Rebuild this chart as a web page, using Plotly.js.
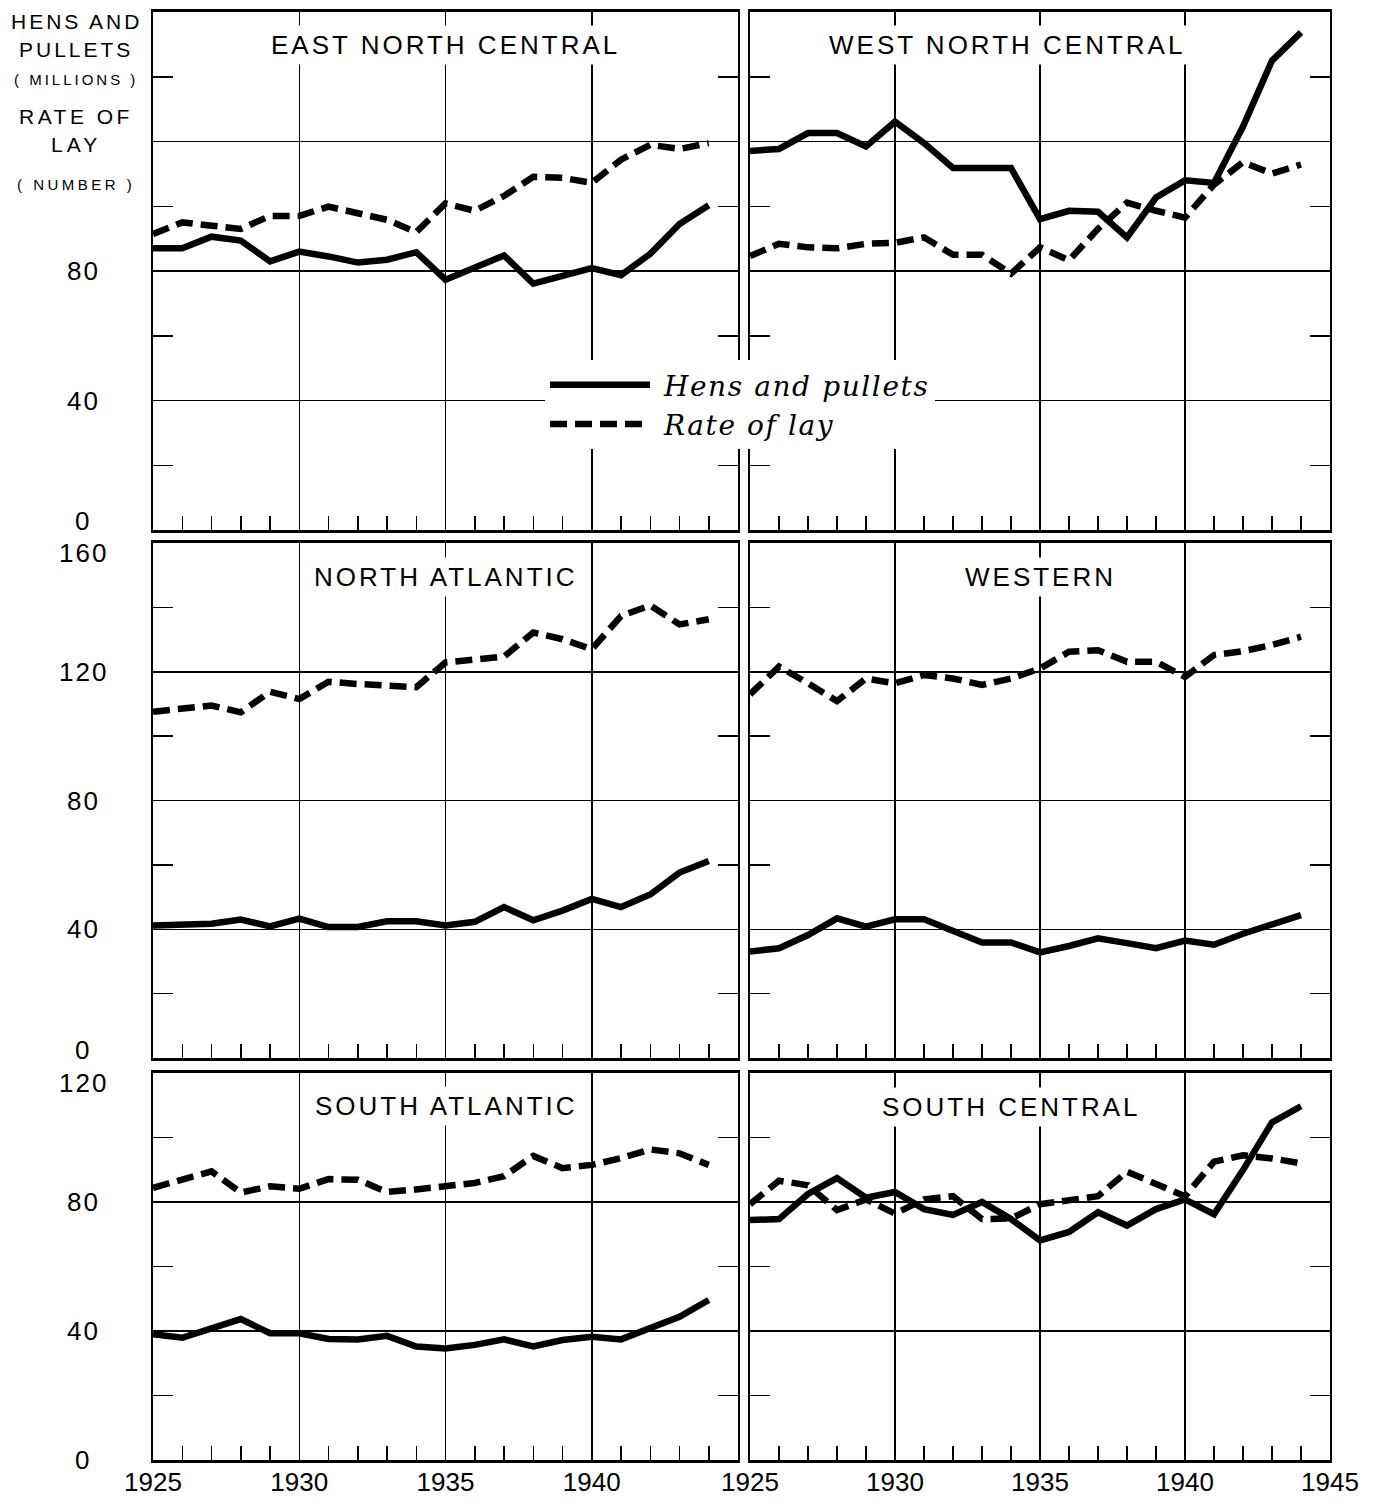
<!DOCTYPE html>
<html><head><meta charset="utf-8">
<script src="https://cdn.plot.ly/plotly-3.0.1.min.js"></script>
<style>body{margin:0;background:#fff}</style>
</head><body>
<div id="chart" style="width:1381px;height:1501px"></div>
<script>
// ---------- data ----------
const years = [1925,1926,1927,1928,1929,1930,1931,1932,1933,1934,1935,1936,1937,1938,1939,1940,1941,1942,1943,1944];

const encHens = [87.0,87.0,90.6,89.4,83.0,86.0,84.5,82.6,83.5,85.8,77.3,80.9,84.8,76.1,78.7,80.9,78.7,85.3,94.5,100.3];
const encLay  = [91.4,95.0,94.0,93.0,97.0,97.0,99.9,98.1,95.8,92.0,100.9,98.6,103.2,109.1,108.8,107.2,114.4,119.0,117.7,119.5];

const wncHens = [117.1,117.7,122.6,122.6,118.5,126.1,119.5,111.8,111.8,111.8,96.0,98.6,98.3,90.4,102.7,108.0,107.2,124.6,145.0,153.7];
const wncLay  = [84.6,88.4,87.3,87.0,88.4,88.7,90.4,85.0,85.0,79.2,87.3,83.3,93.0,101.1,98.6,96.5,106.7,113.6,110.1,112.9];

const naHens = [41.2,41.2,41.7,43.0,40.9,43.3,40.7,40.7,42.5,42.5,41.2,42.3,46.9,42.8,45.8,49.4,46.9,50.8,57.6,61.2];
const naLay  = [107.6,108.5,109.5,107.4,113.8,111.5,116.9,116.2,115.7,115.2,122.9,123.9,124.7,132.2,130.1,127.0,137.3,140.6,134.7,136.3];

const wHens = [33.1,34.1,38.2,43.4,40.8,43.1,43.1,39.3,35.9,35.9,32.8,34.8,37.2,35.7,34.1,36.5,35.2,38.6,41.3,44.4];
const wLay  = [113.0,121.6,116.4,110.9,117.9,116.4,119.0,117.9,115.9,117.9,121.0,126.2,126.7,123.1,123.1,118.4,125.2,126.4,128.3,130.9];

const saHens = [39.0,37.9,40.8,43.7,39.3,39.3,37.5,37.4,38.5,35.2,34.6,35.7,37.4,35.2,37.2,38.2,37.4,40.8,44.4,49.6];
const saLay  = [84.4,87.1,89.5,82.9,84.9,84.1,87.1,86.9,83.1,83.9,84.7,85.9,88.0,94.3,90.5,91.5,93.6,96.3,95.1,91.5];

const scHens = [74.4,74.7,82.5,87.4,81.3,83.1,77.8,76.0,80.0,74.7,68.1,70.7,76.8,72.7,77.8,80.8,76.2,89.9,104.7,109.7];
const scLay  = [79.3,86.6,85.2,77.5,80.8,76.4,80.8,81.8,74.7,74.9,79.3,80.8,81.8,89.4,85.4,81.8,92.5,94.5,93.5,92.0];

const regionNames = ["EAST NORTH CENTRAL","WEST NORTH CENTRAL","NORTH ATLANTIC","WESTERN","SOUTH ATLANTIC","SOUTH CENTRAL"];
const seriesNames = ["Hens and pullets","Rate of lay"];
const xTicksLeft  = [1925,1930,1935,1940];
const xTicksRight = [1925,1930,1935,1940,1945];
const yTicksTop = [0,40,80];
const yTicksMid = [0,40,80,120,160];
const yTicksBot = [0,40,80,120];

// ---------- layout helpers ----------
const W = 1381, H = 1501;
const px = v => v / W;
const py = v => 1 - v / H;
const colL = [153, 738], colR = [750, 1330];
const rows = [[12, 530], [543, 1058], [1073, 1460]];
const xd = c => [px(c[0]), px(c[1])];
const yd = r => [py(r[1]), py(r[0])];

const BLACK = '#000';
const sans = 'Liberation Sans, Arial, sans-serif';
const legendLabel = t => '\u00A0<span style="letter-spacing:1.6px">' + t + '</span>';

const panels = [
  {hens: encHens, lay: encLay, xa: 'x',  ya: 'y'},
  {hens: wncHens, lay: wncLay, xa: 'x2', ya: 'y2'},
  {hens: naHens,  lay: naLay,  xa: 'x3', ya: 'y3'},
  {hens: wHens,   lay: wLay,   xa: 'x4', ya: 'y4'},
  {hens: saHens,  lay: saLay,  xa: 'x5', ya: 'y5'},
  {hens: scHens,  lay: scLay,  xa: 'x6', ya: 'y6'}
];

const traces = [];
panels.forEach((p, i) => {
  traces.push({x: years, y: p.hens, xaxis: p.xa, yaxis: p.ya, mode: 'lines', name: legendLabel(seriesNames[0]),
    showlegend: i === 0, legendrank: 1, line: {color: BLACK, width: 6.5}, hoverinfo: 'skip'});
  traces.push({x: years, y: p.lay, xaxis: p.xa, yaxis: p.ya, mode: 'lines', name: legendLabel(seriesNames[1]),
    showlegend: i === 0, legendrank: 2, line: {color: BLACK, width: 6.5, dash: '17px,8px'}, hoverinfo: 'skip'});
});

function xAxis(col, anchor, tickvals, labels) {
  return {
    domain: xd(col), anchor: anchor, range: [1925, 1945],
    tickmode: 'array', tickvals: tickvals, ticktext: tickvals.map(String),
    showgrid: true, gridcolor: BLACK, gridwidth: 1.5,
    showline: true, linecolor: BLACK, linewidth: 3, mirror: true,
    ticks: 'inside', ticklen: 14, tickwidth: 1.5, tickcolor: BLACK,
    minor: {tickmode: 'linear', tick0: 1925, dtick: 1, ticks: 'inside', ticklen: 14, tickwidth: 1.5, tickcolor: BLACK, showgrid: false},
    showticklabels: labels, ticklabelstandoff: -3,
    tickfont: {family: sans, size: 26, color: BLACK},
    zeroline: false, fixedrange: true
  };
}
function yAxis(row, anchor, top) {
  return {
    domain: yd(row), anchor: anchor, range: [0, top],
    tickmode: 'linear', tick0: 0, dtick: 40,
    showgrid: true, gridcolor: BLACK, gridwidth: 1.5,
    showline: true, linecolor: BLACK, linewidth: 2, mirror: 'ticks',
    ticks: 'inside', ticklen: 20, tickwidth: 1.5, tickcolor: BLACK,
    minor: {tickmode: 'linear', tick0: 0, dtick: 20, ticks: 'inside', ticklen: 20, tickwidth: 1.5, tickcolor: BLACK, showgrid: false},
    showticklabels: false, zeroline: false, fixedrange: true
  };
}

const annotations = [];
// panel titles
const titlePos = [[445, 45], [1007, 45], [446, 577], [1040, 577], [446, 1106], [1011, 1107]];
regionNames.forEach((t, i) => {
  annotations.push({xref: 'paper', yref: 'paper', x: px(titlePos[i][0]), y: py(titlePos[i][1]),
    xanchor: 'center', yanchor: 'middle', showarrow: false, bgcolor: '#fff', borderpad: 4,
    text: '<span style="letter-spacing:3px">' + t + '</span>',
    font: {family: sans, size: 26, color: BLACK}});
});
// y-axis heading
const heading = [
  ['HENS AND', 21, 21, 3], ['PULLETS', 49, 21, 3], ['( MILLIONS )', 80, 15, 3],
  ['RATE OF', 117, 21, 3.5], ['LAY', 144, 21, 4], ['( NUMBER )', 184, 15, 3.5]
];
heading.forEach(h => {
  annotations.push({xref: 'paper', yref: 'paper', x: px(76), y: py(h[1]), xanchor: 'center', yanchor: 'middle',
    showarrow: false, text: '<span style="letter-spacing:' + h[3] + 'px">' + h[0] + '</span>',
    font: {family: sans, size: h[2], color: BLACK}});
});
// y tick labels
function yLabels(vals, yref, top, shiftBottom, shiftTop) {
  vals.forEach(v => {
    let s = 0;
    if (v === 0) s = shiftBottom;
    if (v === top) s = shiftTop;
    annotations.push({xref: 'paper', yref: yref, x: px(83), y: v, xanchor: 'center', yanchor: 'middle',
      yshift: s, showarrow: false, text: '<span style="letter-spacing:2px">' + v + '</span>',
      font: {family: sans, size: 26, color: BLACK}});
  });
}
yLabels(yTicksTop, 'y', 160, 9, 0);
yLabels(yTicksMid, 'y3', 160, 8, -10);
yLabels(yTicksBot, 'y5', 120, 0, -10);

const layout = {
  width: W, height: H,
  margin: {l: 0, r: 0, t: 0, b: 0},
  paper_bgcolor: '#fff', plot_bgcolor: '#fff',
  font: {family: sans, color: BLACK},
  showlegend: true,
  legend: {x: px(545), y: py(360), xanchor: 'left', yanchor: 'top', bgcolor: '#fff', borderwidth: 0,
    itemwidth: 100, tracegroupgap: 0, traceorder: 'normal',
    font: {family: 'DejaVu Serif, serif', size: 28, style: 'italic', color: BLACK}},
  xaxis:  xAxis(colL, 'y',  xTicksLeft, false),
  xaxis2: xAxis(colR, 'y2', xTicksRight, false),
  xaxis3: xAxis(colL, 'y3', xTicksLeft, false),
  xaxis4: xAxis(colR, 'y4', xTicksRight, false),
  xaxis5: xAxis(colL, 'y5', xTicksLeft, true),
  xaxis6: xAxis(colR, 'y6', xTicksRight, true),
  yaxis:  yAxis(rows[0], 'x', 160),
  yaxis2: yAxis(rows[0], 'x2', 160),
  yaxis3: yAxis(rows[1], 'x3', 160),
  yaxis4: yAxis(rows[1], 'x4', 160),
  yaxis5: yAxis(rows[2], 'x5', 120),
  yaxis6: yAxis(rows[2], 'x6', 120),
  annotations: annotations
};

Plotly.newPlot('chart', traces, layout, {staticPlot: true, displayModeBar: false});
</script>
</body></html>
